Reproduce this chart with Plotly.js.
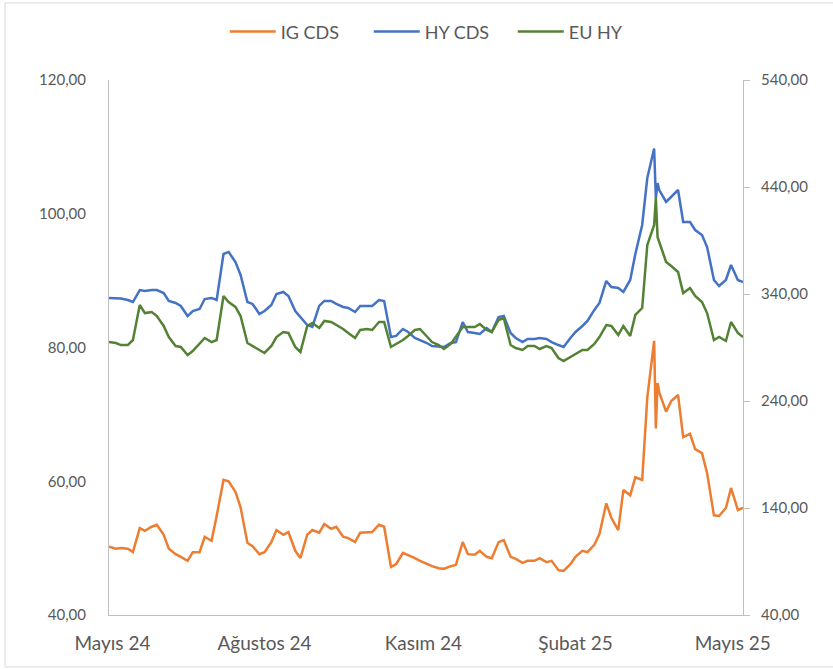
<!DOCTYPE html>
<html>
<head>
<meta charset="utf-8">
<script src="https://cdn.plot.ly/plotly-3.0.1.min.js"></script>
<style>
  html, body { margin: 0; padding: 0; background: #ffffff; }
  #chart { width: 833px; height: 669px; }
</style>
</head>
<body>
<div id="chart"></div>
<script>
// Dates (twice-weekly sampling plus the April 2025 spike days)
const dates = [
  '2024-05-23','2024-05-27','2024-05-30','2024-06-03','2024-06-06','2024-06-10','2024-06-13','2024-06-17',
  '2024-06-20','2024-06-24','2024-06-27','2024-07-01','2024-07-04','2024-07-08','2024-07-11','2024-07-15',
  '2024-07-18','2024-07-22','2024-07-25','2024-07-29','2024-08-01','2024-08-05','2024-08-08','2024-08-12',
  '2024-08-15','2024-08-19','2024-08-22','2024-08-26','2024-08-29','2024-09-02','2024-09-05','2024-09-09',
  '2024-09-12','2024-09-16','2024-09-19','2024-09-23','2024-09-26','2024-09-30','2024-10-03','2024-10-07',
  '2024-10-10','2024-10-14','2024-10-17','2024-10-21','2024-10-24','2024-10-28','2024-10-31','2024-11-04',
  '2024-11-07','2024-11-11','2024-11-14','2024-11-18','2024-11-21','2024-11-25','2024-11-28','2024-12-02',
  '2024-12-05','2024-12-09','2024-12-12','2024-12-16','2024-12-19','2024-12-23','2024-12-26','2024-12-30',
  '2025-01-02','2025-01-06','2025-01-09','2025-01-13','2025-01-16','2025-01-20','2025-01-23','2025-01-27',
  '2025-01-30','2025-02-03','2025-02-06','2025-02-10','2025-02-13','2025-02-17','2025-02-20','2025-02-24',
  '2025-02-27','2025-03-03','2025-03-06','2025-03-10','2025-03-13','2025-03-17','2025-03-20','2025-03-24',
  '2025-03-27','2025-03-31','2025-04-03','2025-04-07','2025-04-08','2025-04-09','2025-04-10','2025-04-14',
  '2025-04-17','2025-04-21','2025-04-24','2025-04-28','2025-05-01','2025-05-05','2025-05-08','2025-05-12',
  '2025-05-15','2025-05-19','2025-05-22','2025-05-26','2025-05-29'
];

// IG CDS (left axis)
const igCds = [
  50.2,49.9,50.0,49.9,49.4,53.0,52.6,53.2,53.5,52.0,49.9,49.1,48.7,48.1,49.4,49.4,
  51.7,51.1,54.8,60.2,60.0,58.4,56.1,50.8,50.3,49.1,49.4,50.9,52.7,52.0,52.4,49.6,
  48.5,52.0,52.7,52.3,53.6,52.9,53.2,51.7,51.5,50.9,52.3,52.4,52.4,53.5,53.2,47.2,
  47.6,49.3,49.0,48.5,48.1,47.6,47.3,47.0,46.9,47.3,47.5,50.9,49.1,49.0,49.6,48.7,
  48.5,50.9,51.2,48.7,48.4,47.8,48.1,48.1,48.5,47.9,48.1,46.7,46.6,47.6,48.7,49.6,
  49.4,50.5,52.1,56.7,54.5,52.7,58.7,57.9,60.6,60.2,72.5,81.0,67.9,74.7,73.3,70.4,
  72.0,72.9,66.6,67.1,64.8,64.2,61.2,54.9,54.8,56.0,59.0,55.7,56.0
];

// HY CDS (right axis)
const hyCds = [
  336.3,336.3,335.8,334.4,332.5,343.7,342.8,343.7,343.7,340.9,333.5,331.6,328.8,319.4,324.1,326.0,
  335.3,336.3,334.4,377.4,379.3,369.9,357.8,332.5,330.7,321.3,324.1,329.7,340.0,341.9,338.1,324.1,
  318.5,311.0,309.2,328.8,333.5,333.5,330.7,327.9,326.9,323.2,328.8,328.8,328.8,334.4,333.5,299.8,
  300.8,307.3,304.5,298.9,297.0,294.2,291.4,290.5,290.5,294.2,295.1,313.8,304.5,303.6,302.6,308.2,
  304.5,318.5,319.4,303.6,298.9,295.1,298.0,298.0,298.9,298.0,295.1,292.3,290.5,298.9,304.5,310.1,
  314.8,325.1,331.6,352.2,346.5,345.6,341.9,353.1,377.4,404.5,448.4,476.0,429.7,443.7,437.2,426.0,
  430.7,437.2,407.3,407.3,399.8,395.1,383.9,353.1,347.5,353.1,367.1,353.1,351.2
];

// EU HY (right axis)
const euHy = [
  295.1,294.2,292.3,292.3,297.0,329.7,322.2,323.2,319.4,310.1,299.8,291.4,290.5,283.0,286.7,294.2,
  298.9,295.1,297.0,338.1,332.5,327.9,319.4,294.2,291.4,287.7,284.9,291.4,299.8,304.5,303.6,290.5,
  285.8,310.1,312.9,308.2,314.8,313.8,311.0,307.3,303.6,298.9,306.4,307.3,306.4,313.8,313.8,290.5,
  293.3,297.0,300.8,306.4,307.3,300.8,295.1,292.3,288.6,293.3,299.8,309.2,309.2,309.2,312.0,306.4,
  304.5,315.7,317.6,292.3,289.5,287.7,291.4,291.4,288.6,291.4,289.5,280.2,277.4,281.1,283.9,287.7,
  287.7,293.3,299.8,311.0,310.1,301.7,310.1,300.8,320.4,326.9,385.8,404.5,429.7,393.3,388.6,369.9,
  366.2,360.6,340.9,345.6,338.1,332.5,322.2,297.0,299.8,296.1,313.8,303.6,299.8
];

const tickDates = ['2024-05-25','2024-08-22','2024-11-23','2025-02-20','2025-05-23'];
const tickLabels = ['Mayıs 24','Ağustos 24','Kasım 24','Şubat 25','Mayıs 25'];

const FONT = 'Lato, "Open Sans", sans-serif';
const GREY_TXT = '#595959';
const AXIS_GREY = '#bfbfbf';

const traces = [
  { x: dates, y: igCds, name: 'IG CDS', type: 'scatter', mode: 'lines', yaxis: 'y',
    line: { color: '#ED7D31', width: 2.5 } },
  { x: dates, y: hyCds, name: 'HY CDS', type: 'scatter', mode: 'lines', yaxis: 'y2',
    line: { color: '#4472C4', width: 2.5 } },
  { x: dates, y: euHy, name: 'EU HY', type: 'scatter', mode: 'lines', yaxis: 'y2',
    line: { color: '#548235', width: 2.5 } }
];

const layout = {
  width: 833, height: 669,
  paper_bgcolor: '#ffffff', plot_bgcolor: '#ffffff',
  margin: { l: 109, r: 90, t: 80, b: 54, pad: 0, autoexpand: false },
  separators: ',.',
  font: { family: FONT, size: 15, color: GREY_TXT },
  showlegend: true,
  legend: { orientation: 'h', x: 0.1826, xanchor: 'left', y: 1.09, yanchor: 'middle',
            font: { family: FONT, size: 18, color: GREY_TXT }, traceorder: 'normal',
            itemwidth: 46, entrywidth: 83, entrywidthmode: 'pixels' },
  xaxis: {
    type: 'date', range: ['2024-05-23', '2025-05-29'],
    tickmode: 'array', tickvals: tickDates, ticktext: tickLabels,
    showgrid: false, zeroline: false, showline: true, linecolor: AXIS_GREY, linewidth: 1,
    ticks: '', ticklabelstandoff: 11,
    tickfont: { family: FONT, size: 19, color: GREY_TXT }
  },
  yaxis: {
    range: [40, 120], tickmode: 'linear', tick0: 40, dtick: 20, tickformat: '.2f',
    showgrid: false, zeroline: false, showline: true, linecolor: AXIS_GREY, linewidth: 1,
    ticks: '', ticklabelstandoff: 19,
    tickfont: { family: FONT, size: 15, color: GREY_TXT }
  },
  yaxis2: {
    range: [40, 540], tickmode: 'linear', tick0: 40, dtick: 100, tickformat: '.2f',
    overlaying: 'y', side: 'right',
    showgrid: false, zeroline: false, showline: true, linecolor: AXIS_GREY, linewidth: 1,
    ticks: 'outside', ticklen: 6, tickcolor: AXIS_GREY, ticklabelstandoff: 8,
    tickfont: { family: FONT, size: 15, color: GREY_TXT }
  },
  shapes: [
    { type: 'rect', xref: 'paper', yref: 'paper', x0: -0.164, x1: 1.16, y0: -0.097, y1: 1.144,
      line: { color: '#d9d9d9', width: 1 }, fillcolor: 'rgba(0,0,0,0)', layer: 'below' }
  ]
};

Plotly.newPlot('chart', traces, layout, { displayModeBar: false, staticPlot: true });
</script>
</body>
</html>
